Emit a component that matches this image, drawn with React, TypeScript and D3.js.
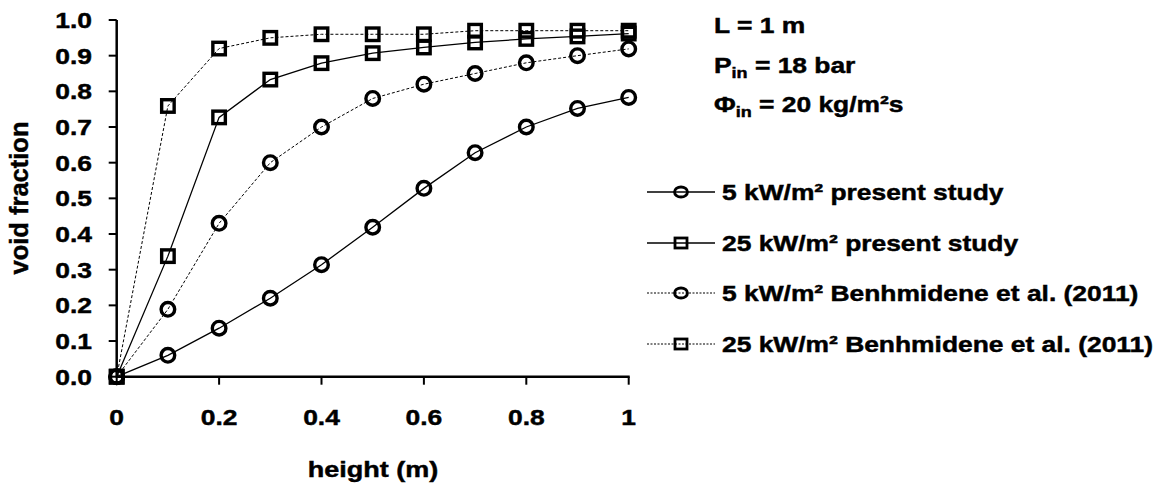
import React from "react";
import * as d3 from "d3";

// Height along the channel (m)
const heights = [0, 0.1, 0.2, 0.3, 0.4, 0.5, 0.6, 0.7, 0.8, 0.9, 1.0];

// Void fraction profiles
const present5 = [0, 0.06, 0.136, 0.22, 0.314, 0.419, 0.528, 0.628, 0.70, 0.752, 0.783];
const present25 = [0, 0.338, 0.727, 0.833, 0.879, 0.907, 0.923, 0.937, 0.947, 0.954, 0.962];
const benh5 = [0, 0.189, 0.43, 0.60, 0.70, 0.78, 0.82, 0.85, 0.88, 0.90, 0.919];
const benh25 = [0, 0.759, 0.92, 0.95, 0.96, 0.96, 0.96, 0.97, 0.97, 0.97, 0.97];

const seriesLabels = [
  "5 kW/m² present study",
  "25 kW/m² present study",
  "5 kW/m² Benhmidene et al. (2011)",
  "25 kW/m² Benhmidene et al. (2011)",
];

const yTicks = [0, 0.1, 0.2, 0.3, 0.4, 0.5, 0.6, 0.7, 0.8, 0.9, 1.0];
const xTicks = [0, 0.2, 0.4, 0.6, 0.8, 1.0];

const FONT = "'Liberation Sans', Arial, sans-serif";
const SX = 1.2;

type Series = { values: number[]; marker: "circle" | "square"; dashed: boolean; label: string };

const series: Series[] = [
  { values: present5, marker: "circle", dashed: false, label: seriesLabels[0] },
  { values: present25, marker: "square", dashed: false, label: seriesLabels[1] },
  { values: benh5, marker: "circle", dashed: true, label: seriesLabels[2] },
  { values: benh25, marker: "square", dashed: true, label: seriesLabels[3] },
];

function Txt(props: {
  x: number;
  y: number;
  size: number;
  anchor?: "start" | "middle" | "end";
  rotate?: number;
  children: React.ReactNode;
}) {
  const { x, y, size, anchor = "start", rotate = 0, children } = props;
  const tr = rotate
    ? `translate(${x},${y}) rotate(${rotate})`
    : `translate(${x},${y}) scale(${SX},1)`;
  return (
    <text
      transform={tr}
      textAnchor={anchor}
      fontFamily={FONT}
      fontWeight="bold"
      fontSize={size}
      fill="#000"
      stroke="#000"
      strokeWidth={0.45}
    >
      {children}
    </text>
  );
}

function Marker({ kind, cx, cy, small }: { kind: "circle" | "square"; cx: number; cy: number; small?: boolean }) {
  if (kind === "circle") {
    return small ? (
      <ellipse cx={cx} cy={cy} rx={6.5} ry={5} fill="none" stroke="#000" strokeWidth={2.8} />
    ) : (
      <circle cx={cx} cy={cy} r={6.8} fill="none" stroke="#000" strokeWidth={3.4} />
    );
  }
  const h = small ? 10 : 12.5;
  const w = small ? 12 : 12.5;
  return (
    <rect
      x={cx - w / 2}
      y={cy - h / 2}
      width={w}
      height={h}
      fill="none"
      stroke="#000"
      strokeWidth={small ? 2.8 : 3.4}
    />
  );
}

export default function App() {
  const width = 1167;
  const height = 485;
  const x = d3.scaleLinear().domain([0, 1]).range([116.7, 628.7]);
  const y = d3.scaleLinear().domain([0, 1]).range([376.7, 20]);

  const line = d3
    .line<number>()
    .x((_, i) => x(heights[i]))
    .y((d) => y(d));

  const legendY = [192, 243, 293, 344];

  return (
    <svg width={width} height={height} style={{ display: "block", position: "absolute", left: 0, top: 0 }}>
      <rect width={width} height={height} fill="#fff" />

      {/* series lines */}
      {series.map((s, i) => (
        <path
          key={"l" + i}
          d={line(s.values) || ""}
          fill="none"
          stroke="#000"
          strokeWidth={s.dashed ? 1 : 1.3}
          strokeDasharray={s.dashed ? "3,2" : undefined}
        />
      ))}

      {/* axes */}
      <line x1={x(0)} x2={x(0)} y1={y(1)} y2={y(0)} stroke="#000" strokeWidth={2.5} />
      <line x1={x(0) - 1} x2={x(1) + 1} y1={y(0)} y2={y(0)} stroke="#000" strokeWidth={2.5} />
      {yTicks.map((t) => (
        <g key={"yt" + t}>
          <line x1={x(0) - 8} x2={x(0)} y1={y(t)} y2={y(t)} stroke="#000" strokeWidth={2} />
          <Txt x={92} y={y(t) + 8} size={22} anchor="end">
            {d3.format(".1f")(t)}
          </Txt>
        </g>
      ))}
      {xTicks.map((t) => (
        <g key={"xt" + t}>
          <line x1={x(t)} x2={x(t)} y1={y(0)} y2={y(0) + 8} stroke="#000" strokeWidth={2} />
          <Txt x={x(t)} y={425} size={22} anchor="middle">
            {t === 0 || t === 1 ? String(t) : d3.format(".1f")(t)}
          </Txt>
        </g>
      ))}

      {/* markers */}
      {series.map((s, i) => (
        <g key={"m" + i}>
          {s.values.map((v, j) => (
            <Marker key={j} kind={s.marker} cx={x(heights[j])} cy={y(v)} />
          ))}
        </g>
      ))}

      {/* axis titles */}
      <Txt x={373} y={477} size={22.5} anchor="middle">
        height (m)
      </Txt>
      <Txt x={28} y={198} size={25.5} anchor="middle" rotate={-90}>
        void fraction
      </Txt>

      {/* operating conditions */}
      <Txt x={714} y={33} size={22}>
        L = 1 m
      </Txt>
      <Txt x={714} y={73} size={22}>
        P<tspan fontSize={15} dy={5}>in</tspan>
        <tspan dy={-5}> = 18 bar</tspan>
      </Txt>
      <Txt x={714} y={112} size={22}>
        Φ<tspan fontSize={15} dy={5}>in</tspan>
        <tspan dy={-5}> = 20 kg/m²s</tspan>
      </Txt>

      {/* legend */}
      {series.map((s, i) => (
        <g key={"lg" + i}>
          <line
            x1={647}
            x2={715}
            y1={legendY[i]}
            y2={legendY[i]}
            stroke="#000"
            strokeWidth={s.dashed ? 1 : 1.3}
            strokeDasharray={s.dashed ? "2,1.5" : undefined}
          />
          <Marker kind={s.marker} cx={681} cy={legendY[i]} small />
          <Txt x={722} y={legendY[i] + 8} size={22}>
            {s.label}
          </Txt>
        </g>
      ))}
    </svg>
  );
}
